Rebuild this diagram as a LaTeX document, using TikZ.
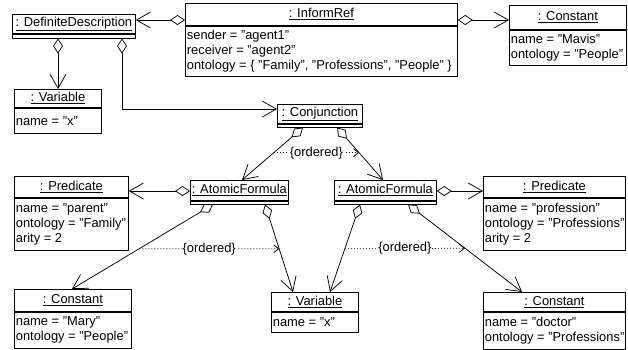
\documentclass[tikz,border=0pt]{standalone}
\usepackage{fontspec}
\setmainfont{Liberation Sans}
\usetikzlibrary{arrows.meta}
\newcommand{\objbox}[8]{%
  \node[ttl, minimum width=#4pt, minimum height=#5pt] (#1) at (#2,#3) {\underline{#6}};
  \node[att, minimum width=#4pt, minimum height=#7pt] (#1a) at (#1.south west) {};
  \node[atxt] (#1t) at (#1a.west) {#8};
}
\begin{document}
\begin{tikzpicture}[x=1pt,y=-1pt, line width=0.75pt,
  every node/.style={font=\fontsize{12.9}{15}\selectfont},
  ttl/.style={draw, anchor=north west, inner sep=0pt},
  att/.style={draw, anchor=north west, inner sep=0pt},
  atxt/.style={anchor=west, align=left, inner xsep=1.5pt, inner ysep=0pt},
  agg/.style={{Diamond[open,length=15pt,width=10pt]}-{Straight Barb[length=14pt,width=16pt]}},
  ord/.style={dash pattern=on 1pt off 2pt, -{Straight Barb[length=5pt,width=8pt]}},
  ordlbl/.style={fill=white, inner sep=1pt}]
\useasboundingbox[fill=white] (0,0) rectangle (628,349);

% objects
\objbox{DD}{12}{14}{123}{19}{: DefiniteDescription}{4}{}
\objbox{IR}{185}{3}{272}{22}{: InformRef}{50}{sender = "agent1"\\receiver = "agent2"\\ontology = \{ "Family", "Professions", "People" \}}
\objbox{CV}{509}{5}{117}{24}{: Constant}{35}{name = "Mavis"\\ontology = "People"}
\objbox{VA}{14}{89}{87}{18}{: Variable}{25}{name = "x"}
\objbox{CJ}{277}{104}{85}{19}{: Conjunction}{3}{}
\objbox{AL}{190}{180}{98}{20}{: AtomicFormula}{3}{}
\objbox{AR}{334}{180}{102}{20}{: AtomicFormula}{3}{}
\objbox{PL}{14}{176}{114}{21}{: Predicate}{52}{name = "parent"\\ontology = "Family"\\arity = 2}
\objbox{PR}{483}{176}{142}{21}{: Predicate}{52}{name = "profession"\\ontology = "Professions"\\arity = 2}
\objbox{CM}{14}{289}{117}{22}{: Constant}{36}{name = "Mary"\\ontology = "People"}
\objbox{VB}{271}{292}{87}{19}{: Variable}{20}{name = "x"}
\objbox{CD}{483}{292}{142}{19}{: Constant}{37}{name = "doctor"\\ontology = "Professions"}

% connectors
\draw[agg] ([yshift=-17pt]IR.north west) coordinate (t1) -- (t1 -| DD.east);
\draw[agg] ([yshift=-17pt]IR.north east) coordinate (t2) -- (t2 -| CV.west);
\draw[agg] ([xshift=46pt]DDa.south west) coordinate (t3) -- (t3 |- VA.north);
\draw[agg] ([xshift=110pt]DDa.south west) |- ([yshift=-5pt]CJ.north west);
\draw[agg] ([xshift=26pt]CJa.south west) -- coordinate[pos=0.48] (o1) ([xshift=52pt]AL.north west);
\draw[agg] ([xshift=60pt]CJa.south west) -- coordinate[pos=0.48] (o2) ([xshift=49pt]AR.north west);
\draw[agg] ([yshift=-11pt]AL.north west) coordinate (t4) -- (t4 -| PL.east);
\draw[agg] ([yshift=-11pt]AR.north east) coordinate (t5) -- (t5 -| PR.west);
\draw[agg] ([xshift=23pt]ALa.south west) -- coordinate[pos=0.523] (o3) ([xshift=58pt]CM.north west);
\draw[agg] ([xshift=75pt]ALa.south west) -- coordinate[pos=0.506] (o4) ([xshift=22pt]VB.north west);
\draw[agg] ([xshift=26pt]ARa.south west) -- coordinate[pos=0.506] (o5) ([xshift=59pt]VB.north west);
\draw[agg] ([xshift=74pt]ARa.south west) -- coordinate[pos=0.5] (o6) ([xshift=39pt]CD.north west);

% ordered constraints
\draw[ord] (o1) -- node[ordlbl] (l1) {\{ordered\}} (o2);
\draw[ord] (o3) -- node[ordlbl] (l2) {\{ordered\}} (o4);
\draw[ord] (o5) -- node[ordlbl] (l3) {\{ordered\}} (o6);
\end{tikzpicture}
\end{document}
